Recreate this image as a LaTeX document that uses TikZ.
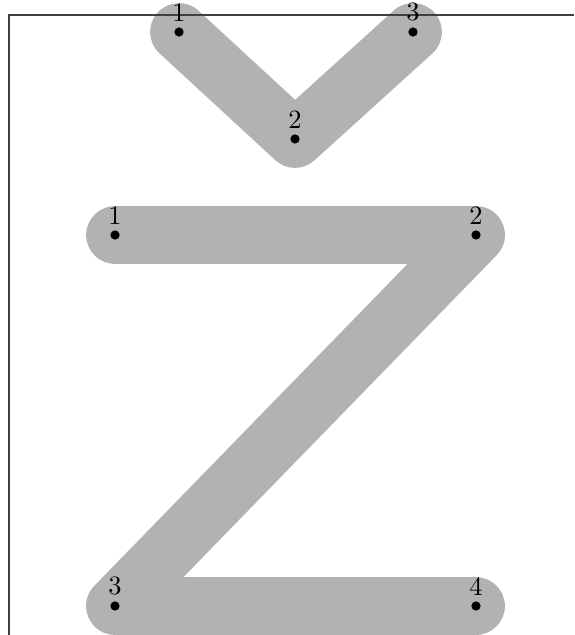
\documentclass[tikz,border=0pt]{standalone}
\begin{document}
\begin{tikzpicture}[x=0.3774pt,y=-0.3774pt,
  stroke/.style={line width=21.8pt, draw=black!30, line cap=round, line join=round},
  frame/.style={line width=0.4pt, draw=black!75},
  dot/.style={circle, fill=black, inner sep=0pt, minimum size=3.5pt},
  num/.style={inner sep=1.9pt}]
\useasboundingbox (0,0) rectangle (574,635);
% caron
\coordinate (c1) at (179,32);
\coordinate (c2) at (295,139);
\coordinate (c3) at (413,32);
% Z
\coordinate (z1) at (115,235);
\coordinate (z2) at (476,235);
\coordinate (z3) at (115,606);
\coordinate (z4) at (476,606);
\draw[stroke] (c1) -- (c2) -- (c3);
\draw[stroke] (z1) -- (z2) -- (z3) -- (z4);
% frame
\coordinate (fr) at (574,15);
\coordinate (fc) at (9,15);
\coordinate (fb) at (9,635);
\draw[frame] (fr) -- (fc) -- (fb);
% points
\node[dot, label={[num,label distance=0pt]above:1}] (dc1) at (c1) {};
\node[dot, label={[num,label distance=0pt]above:2}] (dc2) at (c2) {};
\node[dot, label={[num,label distance=0pt]above:3}] (dc3) at (c3) {};
\node[dot, label={[num,label distance=0pt]above:1}] (dz1) at (z1) {};
\node[dot, label={[num,label distance=0pt]above:2}] (dz2) at (z2) {};
\node[dot, label={[num,label distance=0pt]above:3}] (dz3) at (z3) {};
\node[dot, label={[num,label distance=0pt]above:4}] (dz4) at (z4) {};
\end{tikzpicture}
\end{document}
